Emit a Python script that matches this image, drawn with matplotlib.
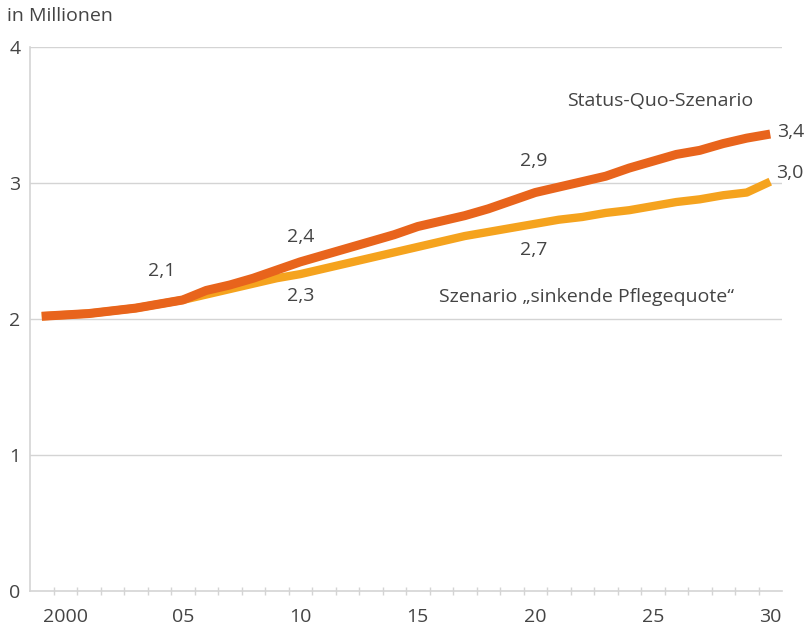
import matplotlib
matplotlib.use("Agg")
import matplotlib.pyplot as plt
import numpy as np

years = list(range(1999, 2031))
status_quo = [2.02, 2.03, 2.04, 2.06, 2.08, 2.11, 2.14, 2.21, 2.25, 2.30, 2.36,
              2.42, 2.47, 2.52, 2.57, 2.62, 2.68, 2.72, 2.76, 2.81, 2.87, 2.93,
              2.97, 3.01, 3.05, 3.11, 3.16, 3.21, 3.24, 3.29, 3.33, 3.36]
sinkend = [2.02, 2.03, 2.04, 2.06, 2.08, 2.11, 2.14, 2.18, 2.22, 2.26, 2.30,
           2.33, 2.37, 2.41, 2.45, 2.49, 2.53, 2.57, 2.61, 2.64, 2.67, 2.70,
           2.73, 2.75, 2.78, 2.80, 2.83, 2.86, 2.88, 2.91, 2.93, 3.01]
xtick_years = [2000, 2005, 2010, 2015, 2020, 2025, 2030]
xtick_labels = ["2000", "05", "10", "15", "20", "25", "30"]
yticks = [0, 1, 2, 3, 4]

# value annotations: (year, value, text)
annots = [(2004.1, 2.35, "2,1"), (2010.0, 2.60, "2,4"), (2010.0, 2.17, "2,3"),
          (2019.95, 3.16, "2,9"), (2019.95, 2.51, "2,7"), (2030.85, 3.375, "3,4"),
          (2030.85, 3.07, "3,0")]

plt.rcParams['font.family'] = ['Open Sans', 'DejaVu Sans']
TEXT = "#444444"
GRID = "#d4d4d4"
DARK = "#e8641c"
LIGHT = "#f5a31e"
FS = 14

fig = plt.figure(figsize=(8.1, 6.32), dpi=100)
ax = fig.add_axes([30/810, 1-591/632, 752/810, 544/632])

ax.plot(years, sinkend, color=LIGHT, lw=6.0, solid_capstyle='butt', zorder=3)
ax.plot(years, status_quo, color=DARK, lw=6.5, solid_capstyle='butt', zorder=4)

ax.set_xlim(1998.5, 2030.5)
ax.set_ylim(0, 4)

for s in ['top', 'right']:
    ax.spines[s].set_visible(False)
ax.spines['left'].set_color(GRID)
ax.spines['bottom'].set_color(GRID)
ax.spines['left'].set_linewidth(1.2)
ax.spines['bottom'].set_linewidth(1.2)

ax.set_yticks(yticks)
ax.set_yticklabels([str(v) for v in yticks])
ax.tick_params(axis='y', length=0, pad=7, labelsize=FS, labelcolor=TEXT)
for v in yticks[1:]:
    ax.axhline(v, color=GRID, lw=1.0, zorder=1)

ax.set_xticks(xtick_years)
ax.set_xticklabels(xtick_labels)
ax.tick_params(axis='x', length=0, pad=12, labelsize=FS, labelcolor=TEXT)
ax.set_xticks(np.arange(1999.5, 2030.5, 1.0), minor=True)
ax.tick_params(axis='x', which='minor', length=6, direction='inout', color=GRID, width=1.0)

for x, y, t in annots:
    ax.text(x, y, t, ha='center', va='center', fontsize=FS, color=TEXT, clip_on=False)

ax.text(2025.3, 3.60, "Status-Quo-Szenario", ha='center', va='center', fontsize=FS, color=TEXT)
ax.text(2022.2, 2.16, "Szenario \u201esinkende Pflegequote\u201c", ha='center', va='center',
        fontsize=FS, color=TEXT)
fig.text(7/810, 1-16/632, "in Millionen", ha='left', va='center', fontsize=FS, color=TEXT)

fig.savefig("out.png", dpi=100)
